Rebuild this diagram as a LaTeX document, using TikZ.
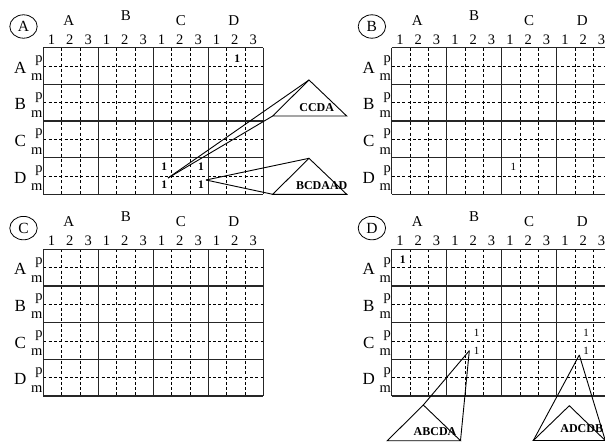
\documentclass[tikz,border=0pt]{standalone}
\usepackage{fontspec}
\setmainfont{Liberation Serif}
\tikzset{
  gridsolid/.style={line width=1.1pt, draw=black!85},
  griddash/.style={line width=0.8pt, dash pattern=on 3pt off 2.3pt},
  hdr/.style={font=\fontsize{15}{16}\selectfont, inner sep=0pt},
  dig/.style={font=\fontsize{14.5}{15}\selectfont, inner sep=0pt},
  rowlab/.style={font=\fontsize{17}{18}\selectfont, inner sep=0pt},
  pm/.style={font=\fontsize{14.5}{15}\selectfont, inner sep=0pt},
  onebold/.style={font=\fontsize{11.5}{12}\selectfont\bfseries, inner sep=0pt},
  onereg/.style={font=\fontsize{11}{12}\selectfont, inner sep=0pt},
  tri/.style={line width=0.9pt},
  trilab/.style={font=\fontsize{12}{13}\selectfont\bfseries, inner sep=0pt},
  circlab/.style={draw, ellipse, line width=0.8pt, minimum width=27.4pt, minimum height=23.4pt, inner sep=0pt, font=\fontsize{15.5}{16}\selectfont},
}
\usetikzlibrary{shapes.geometric}
\newcommand\panelgrid[3]{%
\begin{scope}[shift={(#1,#2)}]
  \foreach \c in {1,2,4,5,7,8,10,11} \draw[griddash] (\c*18.333,0) -- (\c*18.333,146.67);
  \foreach \r in {1,3,5,7} \draw[griddash] (0,\r*18.333) -- (220,\r*18.333);
  \foreach \c in {0,3,6,9,12} \draw[gridsolid] (\c*18.333,0) -- (\c*18.333,146.67);
  \foreach \r in {0,2,4,6,8} \draw[gridsolid] (0,\r*18.333) -- (220,\r*18.333);
  \node[circlab] (#3circ) at (-19.8,-21.2) {#3};
  \node[hdr, anchor=base] (#3hA) at (25.5,-22.7) {A};
  \node[hdr, anchor=base] (#3hB) at (82.5,-27.7) {B};
  \node[hdr, anchor=base] (#3hC) at (137.5,-22.7) {C};
  \node[hdr, anchor=base] (#3hD) at (190.5,-22.7) {D};
  \foreach \i/\d in {0/1,1/2,2/3,3/1,4/2,5/3,6/1,7/2,8/3,9/1,10/2,11/3}
    \node[dig, anchor=base] (#3n\i) at (8.2+\i*18.333,-3.5) {\d};
  \foreach \k/\L in {0/A,1/B,2/C,3/D}{
    \node[rowlab] (#3r\L) at (-23,\k*36.667+20) {\L};
    \node[pm, anchor=base east] (#3p\L) at (-0.6,\k*36.667+14.8) {p};
    \node[pm, anchor=base east] (#3m\L) at (-0.6,\k*36.667+33) {m};
  }
\end{scope}}
\begin{document}
\begin{tikzpicture}[x=1pt,y=-1pt]
\useasboundingbox (0,0) rectangle (605,442);
\clip (0,0) rectangle (605,442);
\panelgrid{43.3}{47.7}{A}
\panelgrid{391.7}{47.7}{B}
\panelgrid{43.3}{249.3}{C}
\panelgrid{391.7}{249.3}{D}
% marks panel A
\node[onebold] (a1) at (237.3,58.3) {1};
\node[onebold] (a2) at (164.3,166.7) {1};
\node[onebold] (a3) at (164.3,185) {1};
\node[onebold] (a4) at (201,166.7) {1};
\node[onebold] (a5) at (201,185) {1};
% panel B
\node[onereg] (b1) at (513.3,166.7) {1};
% panel D
\node[onebold] (d1) at (402.7,259.3) {1};
\node[onereg] (d2) at (476.7,333.3) {1};
\node[onereg] (d3) at (476.7,351) {1};
\node[onereg] (d4) at (586,333.3) {1};
\node[onereg] (d5) at (586,351) {1};
% triangle CCDA
\coordinate (p1) at (168,178);
\coordinate (t1a) at (309,80);
\coordinate (t1l) at (272.7,116);
\coordinate (t1r) at (346.7,116);
\draw[tri] (t1a) -- (t1l) -- (t1r) -- cycle;
\draw[tri] (p1) -- (t1a);
\draw[tri] (p1) -- (t1l);
\node[trilab] (l1) at (316.7,107.7) {CCDA};
% triangle BCDAAD
\coordinate (p2) at (206,180);
\coordinate (t2a) at (309,158.3);
\coordinate (t2l) at (272.7,194.3);
\coordinate (t2r) at (346.7,194.3);
\draw[tri] (t2a) -- (t2l) -- (t2r) -- cycle;
\draw[tri] (p2) -- (t2a);
\draw[tri] (p2) -- (t2l);
\node[trilab] (l2) at (321.7,185.7) {BCDAAD};
% triangle ABCDA
\coordinate (p3) at (469.3,350.7);
\coordinate (t3a) at (423.3,405);
\coordinate (t3l) at (387.3,440.7);
\coordinate (t3r) at (460.5,440.7);
\draw[tri] (t3a) -- (t3l) -- (t3r) -- cycle;
\draw[tri] (p3) -- (t3a);
\draw[tri] (p3) -- (t3r);
\node[trilab] (l3) at (435,431.7) {ABCDA};
% triangle ADCDB
\coordinate (p4) at (579.3,355);
\coordinate (t4a) at (569.3,405.7);
\coordinate (t4l) at (533.3,440.5);
\coordinate (t4r) at (605.3,440.5);
\draw[tri] (t4a) -- (t4l) -- (t4r) -- cycle;
\draw[tri] (p4) -- (t4l);
\draw[tri] (p4) -- (t4r);
\node[trilab] (l4) at (581.7,428.3) {ADCDB};
\end{tikzpicture}
\end{document}
